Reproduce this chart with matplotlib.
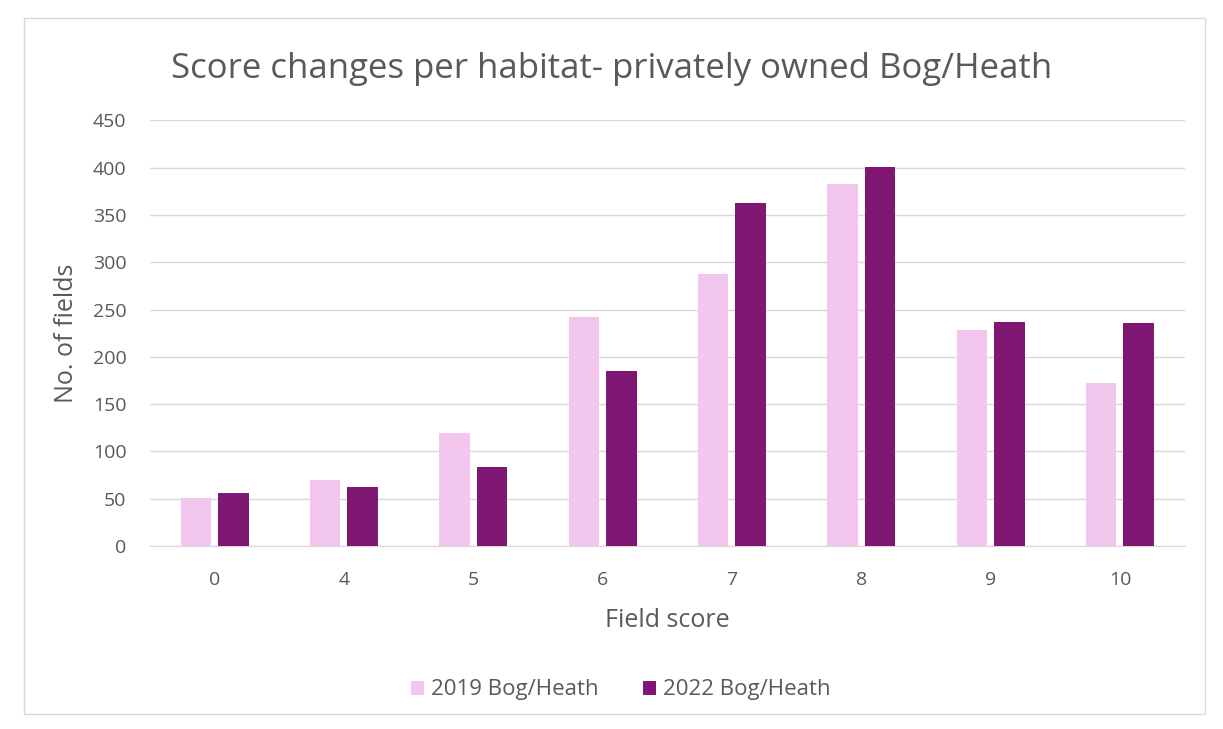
import numpy as np
import matplotlib.pyplot as plt
from matplotlib.patches import FancyBboxPatch

plt.rcParams['font.family'] = ['Open Sans', 'DejaVu Sans']

# Datos
puntuaciones = ['0', '4', '5', '6', '7', '8', '9', '10']
campos_2019 = [51, 70, 119, 242, 287, 383, 228, 172]
campos_2022 = [56, 62, 84, 185, 363, 401, 237, 236]
series = ['2019 Bog/Heath', '2022 Bog/Heath']

color_2019 = '#F3C6EE'
color_2022 = '#7E1872'
gris = '#595959'

fig = plt.figure(figsize=(12.23, 7.29), dpi=100)
fig.patches.append(FancyBboxPatch((0.02, 0.02), 0.965, 0.955, boxstyle='square,pad=0',
                                  transform=fig.transFigure, fill=False,
                                  edgecolor='#D9D9D9', lw=1))
ax = fig.add_axes([0.1226, 0.251, 0.846, 0.584])

x = np.arange(len(puntuaciones))
w = 0.235
ax.bar(x - 0.145, campos_2019, w, color=color_2019, label=series[0], zorder=3)
ax.bar(x + 0.145, campos_2022, w, color=color_2022, label=series[1], zorder=3)

ax.set_xlim(-0.5, len(puntuaciones) - 0.5)
ax.set_ylim(0, 450)
ax.set_yticks(np.arange(0, 451, 50))
ax.set_xticks(x)
ax.set_xticklabels(puntuaciones)
ax.grid(axis='y', color='#D9D9D9', lw=1, zorder=0)
for s in ax.spines.values():
    s.set_visible(False)
ax.spines['bottom'].set_visible(True)
ax.spines['bottom'].set_color('#D9D9D9')
ax.tick_params(axis='both', length=0, labelsize=14, colors=gris)
ax.tick_params(axis='x', pad=18)
ax.tick_params(axis='y', pad=17)

ax.set_xlabel('Field score', fontsize=18, color=gris, labelpad=14)
ax.set_ylabel('No. of fields', fontsize=18, color=gris, labelpad=10)
fig.text(0.5, 0.905, 'Score changes per habitat- privately owned Bog/Heath',
         ha='center', va='center', fontsize=25, color=gris)

ax.legend(loc='center', bbox_to_anchor=(0.455, -0.338), ncol=2, frameon=False,
          fontsize=16, labelcolor=gris, handlelength=0.6, handleheight=0.6,
          handletextpad=0.3, columnspacing=2.0)

fig.savefig('out.png', dpi=100, facecolor='white')
